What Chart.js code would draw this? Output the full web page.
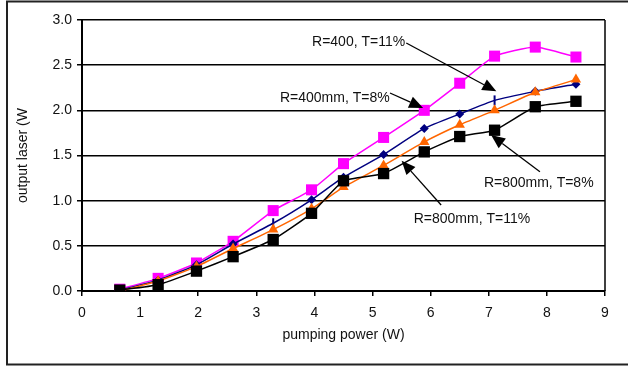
<!DOCTYPE html>
<html>
<head>
<meta charset="utf-8">
<script src="https://cdn.jsdelivr.net/npm/chart.js@4.4.0/dist/chart.umd.min.js"></script>
<style>
  html, body { margin: 0; padding: 0; background: #fff; }
  canvas { display: block; }
</style>
</head>
<body>
<canvas id="laserChart" width="628" height="372"></canvas>
<script>
// pumping power (W) at each measurement
const pumpPower = [0.65, 1.31, 1.97, 2.6, 3.29, 3.95, 4.5, 5.19, 5.89, 6.5, 7.1, 7.8, 8.5];

// output laser (W) for each configuration
const r800t11 = [0.01, 0.07, 0.22, 0.38, 0.57, 0.86, 1.22, 1.30, 1.54, 1.71, 1.78, 2.04, 2.10];
const r800t8  = [0.00, 0.11, 0.27, 0.47, 0.68, 0.91, 1.15, 1.39, 1.65, 1.84, 2.00, 2.20, 2.34];
const r400t8  = [0.01, 0.12, 0.29, 0.52, 0.75, 1.01, 1.26, 1.51, 1.80, 1.96, 2.11, 2.21, 2.29];
const r400t11 = [0.02, 0.14, 0.31, 0.55, 0.89, 1.12, 1.41, 1.70, 2.00, 2.30, 2.60, 2.70, 2.59];

const yTicks = [0, 0.5, 1.0, 1.5, 2.0, 2.5, 3.0];
const xTicks = [0, 1, 2, 3, 4, 5, 6, 7, 8, 9];

// callout labels: text position and arrow start/tip, all in data units
const callouts = [
  { text: 'R=400, T=11%',   tx: 4.76, ty: 2.757, x0: 5.58, y0: 2.745, x1: 7.13, y1: 2.21 },
  { text: 'R=400mm, T=8%',  tx: 4.35, ty: 2.137, x0: 5.30, y0: 2.192, x1: 5.87, y1: 2.026 },
  { text: 'R=800mm, T=8%',  tx: 7.86, ty: 1.196, x0: 7.88, y0: 1.321, x1: 7.04, y1: 1.727 },
  { text: 'R=800mm, T=11%', tx: 6.71, ty: 0.797, x0: 6.18, y0: 0.952, x1: 5.50, y1: 1.443 }
];

const toPoints = (ys) => ys.map((y, i) => ({ x: pumpPower[i], y }));

const FONT = 'Liberation Sans, Arial, sans-serif';

const navyStyles = ['rectRot', 'rectRot', 'rectRot', 'rectRot', 'line', 'rectRot', 'rectRot',
  'rectRot', 'rectRot', 'rectRot', 'line', 'rectRot', 'rectRot'];

const frame = {
  id: 'frame',
  beforeDraw(chart) {
    const ctx = chart.ctx;
    ctx.save();
    ctx.fillStyle = '#fff';
    ctx.fillRect(0, 0, chart.width, chart.height);
    ctx.strokeStyle = '#222';
    ctx.lineWidth = 2;
    ctx.strokeRect(7, 1.5, chart.width + 20, chart.height - 9);
    ctx.restore();
  },
  afterDraw(chart) {
    const { ctx, chartArea } = chart;
    ctx.save();
    ctx.strokeStyle = '#000';
    ctx.lineWidth = 1.5;
    ctx.beginPath();
    ctx.moveTo(chartArea.right, chartArea.top);
    ctx.lineTo(chartArea.right, chartArea.bottom);
    ctx.stroke();

    const xs = chart.scales.x, ys = chart.scales.y;
    ctx.font = '14px ' + FONT;
    ctx.fillStyle = '#111';
    ctx.textAlign = 'center';
    ctx.textBaseline = 'middle';
    callouts.forEach(c => {
      ctx.fillText(c.text, xs.getPixelForValue(c.tx), ys.getPixelForValue(c.ty));
      const ax = xs.getPixelForValue(c.x0), ay = ys.getPixelForValue(c.y0);
      const bx = xs.getPixelForValue(c.x1), by = ys.getPixelForValue(c.y1);
      const ang = Math.atan2(by - ay, bx - ax);
      const len = 14, half = 6;
      const hx = bx - Math.cos(ang) * len, hy = by - Math.sin(ang) * len;
      ctx.strokeStyle = '#000';
      ctx.lineWidth = 1.3;
      ctx.beginPath();
      ctx.moveTo(ax, ay);
      ctx.lineTo(hx, hy);
      ctx.stroke();
      ctx.fillStyle = '#000';
      ctx.beginPath();
      ctx.moveTo(bx, by);
      ctx.lineTo(hx - Math.sin(ang) * half, hy + Math.cos(ang) * half);
      ctx.lineTo(hx + Math.sin(ang) * half, hy - Math.cos(ang) * half);
      ctx.closePath();
      ctx.fill();
      ctx.fillStyle = '#111';
    });
    ctx.restore();
  }
};

new Chart('laserChart', {
  type: 'line',
  data: {
    datasets: [
      {
        label: 'R=800mm, T=11%',
        data: toPoints(r800t11),
        borderColor: '#000',
        backgroundColor: '#000',
        borderWidth: 1.5,
        pointStyle: 'rect',
        pointRadius: 8,
        pointBorderWidth: 0
      },
      {
        label: 'R=800mm, T=8%',
        data: toPoints(r800t8),
        borderColor: '#ff6600',
        backgroundColor: '#ff6600',
        borderWidth: 1.5,
        pointStyle: 'triangle',
        pointRadius: 6,
        pointBorderWidth: 0
      },
      {
        label: 'R=400mm, T=8%',
        data: toPoints(r400t8),
        borderColor: '#000080',
        backgroundColor: '#000080',
        borderWidth: 1.5,
        pointStyle: navyStyles,
        pointRotation: navyStyles.map(s => s === 'line' ? 90 : 0),
        pointRadius: navyStyles.map(s => s === 'line' ? 5 : 4.5),
        pointBorderWidth: navyStyles.map(s => s === 'line' ? 2 : 0)
      },
      {
        label: 'R=400, T=11%',
        data: toPoints(r400t11),
        borderColor: '#ff00ff',
        backgroundColor: '#ff00ff',
        borderWidth: 1.5,
        pointStyle: 'rect',
        pointRadius: 7.8,
        pointBorderWidth: 0
      }
    ]
  },
  options: {
    responsive: false,
    animation: false,
    layout: { padding: { left: 11, top: 20, right: 23, bottom: 20 } },
    plugins: {
      legend: { display: false },
      tooltip: { enabled: false }
    },
    elements: { line: { tension: 0.15 } },
    scales: {
      x: {
        type: 'linear',
        min: 0,
        max: 9,
        afterFit: (s) => { s.height = 61; },
        afterBuildTicks: (s) => { s.ticks = xTicks.map(v => ({ value: v })); },
        border: { color: '#000', width: 2 },
        grid: { drawOnChartArea: false, drawTicks: true, tickLength: 5, color: '#000', lineWidth: 1.5 },
        ticks: { color: '#111', font: { family: FONT, size: 14 }, padding: 9, maxRotation: 0 },
        title: {
          display: true,
          text: 'pumping power (W)',
          color: '#111',
          font: { family: FONT, size: 14 },
          padding: { top: 4, bottom: 8 }
        }
      },
      y: {
        min: 0,
        max: 3,
        afterFit: (s) => { s.width = 71; },
        afterBuildTicks: (s) => { s.ticks = yTicks.map(v => ({ value: v })); },
        border: { color: '#000', width: 2 },
        grid: { color: '#000', lineWidth: 1.5, tickLength: 5 },
        ticks: {
          color: '#111',
          font: { family: FONT, size: 14 },
          padding: 5,
          callback: (v) => Number(v).toFixed(1)
        },
        title: {
          display: true,
          text: 'output laser (W',
          color: '#111',
          font: { family: FONT, size: 14 },
          padding: { top: 4, bottom: 4 }
        }
      }
    }
  },
  plugins: [frame]
});
</script>
</body>
</html>
